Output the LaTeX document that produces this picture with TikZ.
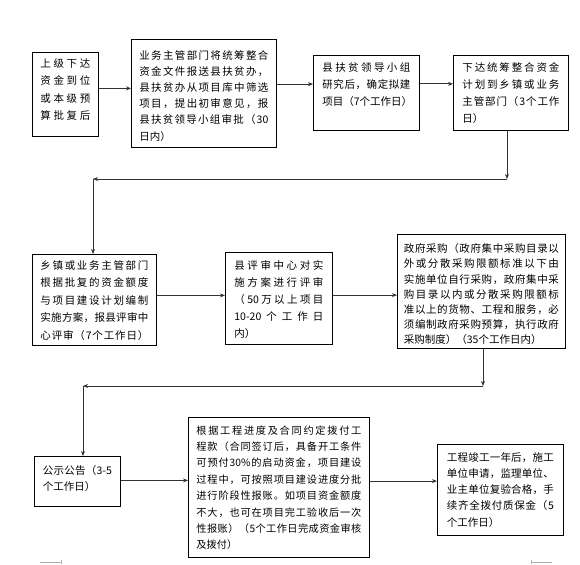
\documentclass[tikz,border=0pt]{standalone}
\usepackage{fontspec}
\setmainfont{Noto Sans CJK SC}
\usetikzlibrary{arrows.meta}
% one full line, its characters spread over the text width
\def\jlend{}
\def\jlmark{\jlend}
\def\jl#1{\hbox to\linewidth{\jlgo#1\jlend}\par}
\def\jlgo#1{\def\jltmp{#1}\ifx\jltmp\jlmark\else#1\expandafter\jlnext\fi}
\def\jlnext#1{\def\jltmp{#1}\ifx\jltmp\jlmark\else\hfil#1\expandafter\jlnext\fi}

\begin{document}
\begin{tikzpicture}[x=1pt, y=-1pt,
		box/.style={draw, line width=0.8pt, anchor=north west, inner ysep=0pt, inner xsep=8pt},
		arr/.style={draw=black!80, line width=0.8pt, -{Stealth[length=5pt,width=4pt]}}]
			%%%%% START %%%%%
			\useasboundingbox (0,0) rectangle (580,564);
			
			\node[box, text width=50pt, text height=15.3pt, text depth=68.7pt, font=\fontsize{10.5}{17.2}\selectfont] (b1) at (32,52)
				{\jl{上级下达}\jl{资金到位}\jl{或本级预}\jl{算批复后}};
			\node[box, text width=129pt, text height=19.7pt, text depth=88.3pt, font=\fontsize{10.5}{16.2}\selectfont] (b2) at (131,39)
				{\jl{业务主管部门将统筹整合}\jl{资金文件报送县扶贫办，}\jl{县扶贫办从项目库中筛选}\jl{项目，提出初审意见，报}\jl{县扶贫领导小组审批（{30}}日内）};
			\node[box, inner xsep=9pt, text width=88pt, text height=16.3pt, text depth=58.7pt, font=\fontsize{10.5}{16.8}\selectfont] (b3) at (313,55)
				{\jl{县扶贫领导小组}\jl{研究后，确定拟建}\jl{项目（7个工作日）}};
			\node[box, inner xsep=9pt, text width=97pt, text height=15.7pt, text depth=59.3pt, font=\fontsize{10.5}{17.2}\selectfont] (b4) at (453,55)
				{\jl{下达统筹整合资金}\jl{计划到乡镇或业务}\jl{主管部门（3个工作}日）};
			
			\node[box, text width=108pt, text height=15pt, text depth=76pt, font=\fontsize{10.5}{17.5}\selectfont] (b5) at (32,254)
				{\jl{乡镇或业务主管部门}\jl{根据批复的资金额度}\jl{与项目建设计划编制}\jl{实施方案，报县评审中}\jl{心评审（7个工作日）}};
			\node[box, inner xsep=9pt, text width=89pt, text height=16.7pt, text depth=75.3pt, font=\fontsize{10.5}{17}\selectfont] (b6) at (225,252)
				{\jl{县评审中心对实}\jl{施方案进行评审}\jl{（{50}万以上项目}\jl{{10-20}个工作日}内）};
			\node[box, inner xsep=6.5pt, text width=155pt, text height=18.3pt, text depth=96pt, font=\fontsize{10.5}{15.2}\selectfont] (b7) at (397,234)
				{\jl{政府采购（政府集中采购目录以}\jl{外或分散采购限额标准以下由}\jl{实施单位自行采购，政府集中采}\jl{购目录以内或分散采购限额标}\jl{准以上的货物、工程和服务，必}\jl{须编制政府采购预算，执行政府}采购制度）（35个工作日内）};
			
			\node[box, inner xsep=8.5pt, text width=69pt, text height=18pt, text depth=32pt, font=\fontsize{10.5}{16}\selectfont] (b8) at (34,456)
				{\jl{公示公告（{3-5}}个工作日）};
			\node[box, text width=165pt, text height=16.7pt, text depth=123.3pt, font=\fontsize{10.2}{16.4}\selectfont] (b9) at (188,417)
				{\jl{根据工程进度及合同约定拨付工}\jl{程款（合同签订后，具备开工条件}\jl{可预付{30\%}的启动资金，项目建设}\jl{过程中，可按照项目建设进度分批}\jl{进行阶段性报账。如项目资金额度}\jl{不大，也可在项目完工验收后一次}\jl{性报账）（5个工作日完成资金审核}及拨付）};
			\node[box, inner xsep=9.5pt, text width=107pt, text height=16.7pt, text depth=74.3pt, font=\fontsize{10.5}{16.25}\selectfont] (b10) at (437,444)
				{\jl{工程竣工一年后，施工}\jl{单位申请，监理单位、}\jl{业主单位复验合格，手}\jl{续齐全拨付质保金（5}个工作日）};
			
			\coordinate (c1) at (507,179);
			\coordinate (c2) at (93,179);
			\coordinate (c3) at (483,386);
			\coordinate (c4) at (83,386);
			
			\draw[arr] ([yshift=6pt]b1.east) -- ([yshift=6pt]b1.east -| b2.west);
			\draw[arr] ([yshift=9.3pt]b2.east) -- ([yshift=9.3pt]b2.east -| b3.west);
			\draw[arr] ([yshift=9pt]b3.east) -- ([yshift=9pt]b3.east -| b4.west);
			\draw[arr] (b4.south -| c1) -- (c1);
			\draw[arr] (c1) -- (c2);
			\draw[arr] (c2) -- (c2 |- b5.north);
			
			\draw[arr] ([yshift=4.5pt]b5.east) -- ([yshift=4.5pt]b5.east -| b6.west);
			\draw[arr] ([yshift=3.3pt]b6.east) -- ([yshift=3.3pt]b6.east -| b7.west);
			\draw[arr] (b7.south -| c3) -- (c3);
			\draw[arr] (c3) -- (c4);
			\draw[arr] (c4) -- (c4 |- b8.north);
			
			\draw[arr] ([yshift=1pt]b8.east) -- ([yshift=1pt]b8.east -| b9.west);
			\draw[arr] ([yshift=6.3pt]b9.east) -- ([yshift=6.3pt]b9.east -| b10.west);
			
			% page marks
			\draw[black!30, line width=0.5pt] (40,562) -- (61,562) (61,560) -- (61,564);
			\draw[black!30, line width=0.5pt] (531,562) -- (552,562) (531,560) -- (531,564);
			%%%%% END %%%%%
\end{tikzpicture}
\end{document}
